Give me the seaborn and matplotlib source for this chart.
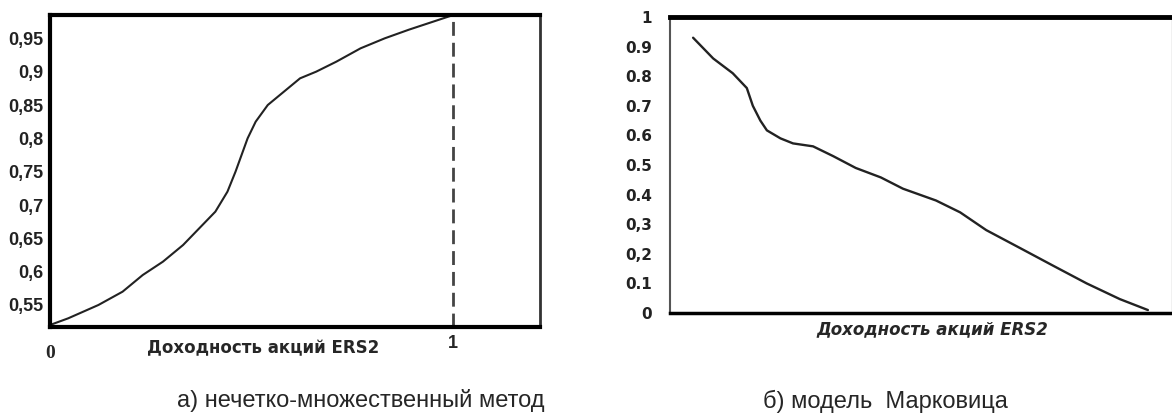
import matplotlib
matplotlib.use("Agg")
import matplotlib.pyplot as plt
import seaborn as sns
import pandas as pd

# ---- data ----
fuzzy_x = [0.0, 0.045, 0.12, 0.18, 0.23, 0.28, 0.33, 0.37, 0.41, 0.44, 0.46, 0.49,
           0.51, 0.54, 0.58, 0.62, 0.66, 0.71, 0.77, 0.83, 0.89, 0.94, 1.0]
fuzzy_y = [0.52, 0.53, 0.55, 0.57, 0.595, 0.615, 0.64, 0.665, 0.69, 0.72, 0.75, 0.80,
           0.825, 0.85, 0.87, 0.89, 0.90, 0.915, 0.935, 0.95, 0.963, 0.973, 0.985]

mark_x = [0.046, 0.086, 0.125, 0.153, 0.165, 0.18, 0.193, 0.22, 0.245, 0.285, 0.325,
          0.37, 0.42, 0.464, 0.53, 0.578, 0.63, 0.70, 0.763, 0.83, 0.896, 0.952]
mark_y = [0.93, 0.86, 0.81, 0.76, 0.70, 0.65, 0.617, 0.59, 0.573, 0.563, 0.53,
          0.49, 0.458, 0.42, 0.38, 0.34, 0.28, 0.217, 0.16, 0.10, 0.047, 0.01]

left_yticks = [0.55, 0.6, 0.65, 0.7, 0.75, 0.8, 0.85, 0.9, 0.95]
left_ylabels = ["0,55", "0,6", "0,65", "0,7", "0,75", "0,8", "0,85", "0,9", "0,95"]
right_yticks = [0, 0.1, 0.2, 0.3, 0.4, 0.5, 0.6, 0.7, 0.8, 0.9, 1.0]
right_ylabels = ["0", "0.1", "0,2", "0,3", "0.4", "0.5", "0.6", "0.7", "0.8", "0.9", "1"]

xlabel = "Доходность акций ERS2"
cap_a = "а) нечетко-множественный метод"
cap_b = "б) модель  Марковица"

sns.set_style("white")
plt.rcParams["font.family"] = ["Liberation Sans", "DejaVu Sans"]

W, H = 1172, 416
fig = plt.figure(figsize=(W / 100, H / 100), dpi=100)
ax1 = fig.add_axes([50/W, 1-327/H, 490/W, 312/H])
ax2 = fig.add_axes([670/W, 1-313/H, 502/W, 296/H])

df1 = pd.DataFrame({"x": fuzzy_x, "y": fuzzy_y})
df2 = pd.DataFrame({"x": mark_x, "y": mark_y})
sns.lineplot(data=df1, x="x", y="y", ax=ax1, color="#222222", lw=1.5)
sns.lineplot(data=df2, x="x", y="y", ax=ax2, color="#222222", lw=1.7)

# left panel
ax1.set_xlim(0, 1.215)
ax1.set_ylim(0.517, 0.985)
ax1.axvline(1.0, color="#444444", lw=2, ls=(0, (5, 2.5)))
ax1.set_yticks(left_yticks)
ax1.set_yticklabels(left_ylabels, fontsize=13, fontweight="bold",
                    family=["Liberation Sans Narrow", "Liberation Sans"])
ax1.tick_params(axis="y", length=2, width=1, direction="out", pad=3, colors="#222222")
ax1.set_xticks([])
ax1.set_xlabel("")
ax1.set_ylabel("")
for side, lw, col in [("left", 3, "black"), ("bottom", 3, "black"), ("top", 3, "black"), ("right", 2, "#333333")]:
    ax1.spines[side].set_linewidth(lw)
    ax1.spines[side].set_color(col)
ax1.text(0.0, 1 - (354 - 15) / 312, "0", transform=ax1.transAxes, ha="center", va="center",
         fontsize=14, fontweight="bold", family="Liberation Serif")
ax1.text(1.0 / 1.215, 1 - (343 - 15) / 312, "1", transform=ax1.transAxes, ha="center", va="center",
         fontsize=13, fontweight="bold")
ax1.text((263 - 50) / 490, 1 - (348 - 15) / 312, xlabel, transform=ax1.transAxes,
         ha="center", va="center", fontsize=12, fontweight="bold", family="DejaVu Sans")

# right panel
ax2.set_xlim(0, 1.0)
ax2.set_ylim(0, 1.0)
ax2.set_yticks(right_yticks)
ax2.set_yticklabels(right_ylabels, fontsize=11, fontweight="bold", family="DejaVu Sans")
ax2.tick_params(axis="y", length=6, width=1, direction="out", pad=7, colors="#222222")
ax2.set_xticks([])
ax2.set_xlabel("")
ax2.set_ylabel("")
for side, lw, col in [("left", 1.5, "#555555"), ("bottom", 2.5, "black"), ("top", 3.5, "black"), ("right", 1, "#bbbbbb")]:
    ax2.spines[side].set_linewidth(lw)
    ax2.spines[side].set_color(col)
ax2.text((932 - 670) / 502, 1 - (329 - 17) / 296, xlabel, transform=ax2.transAxes,
         ha="center", va="center", fontsize=12, fontweight="bold", style="italic",
         family="DejaVu Sans")

fig.text(361/W, 1-401/H, cap_a, ha="center", va="center", fontsize=17)
fig.text(885/W, 1-401/H, cap_b, ha="center", va="center", fontsize=17)

fig.savefig("out.png", dpi=100)
